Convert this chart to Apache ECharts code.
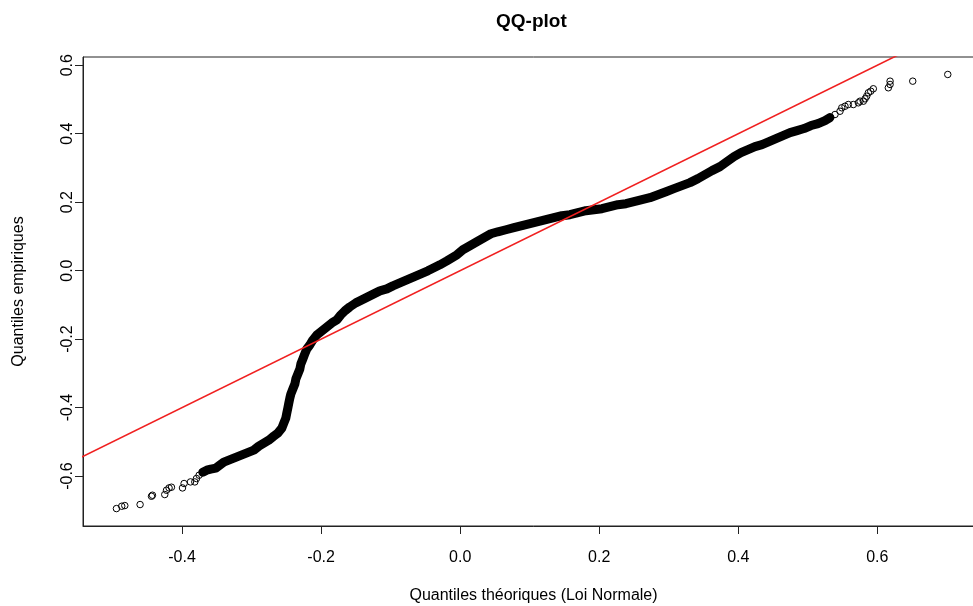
<!DOCTYPE html>
<html>
<head>
<meta charset="utf-8">
<script src="https://cdn.jsdelivr.net/npm/echarts@6/dist/echarts.min.js"></script>
<style>
html,body{margin:0;padding:0;background:#fff;overflow:hidden;width:973px;height:606px;}
#chart{width:992px;height:606px;}
</style>
</head>
<body>
<div id="chart"></div>
<script>
// ---- data ----
// lower tail (isolated points)
const tailLowX = [-0.4944,-0.4868,-0.4824,-0.4604,-0.4440,-0.4426,-0.4249,-0.4224,-0.4187,-0.4153,-0.3994,-0.3971,-0.3879,-0.3817,-0.3793,-0.3755];
const tailLowY = [-0.6951,-0.6883,-0.6863,-0.6833,-0.6591,-0.6561,-0.6541,-0.6415,-0.6348,-0.6327,-0.6348,-0.6219,-0.6172,-0.6172,-0.6073,-0.5976];
// dense central band
const bandX = [-0.3702,-0.3645,-0.3587,-0.3515,-0.3458,-0.3400,-0.3328,-0.3256,-0.3184,-0.3112,-0.3040,-0.2968,-0.2896,-0.2824,-0.2753,-0.2681,-0.2623,-0.2565,-0.2537,-0.2508,-0.2494,-0.2479,-0.2465,-0.2450,-0.2436,-0.2407,-0.2378,-0.2364,-0.2335,-0.2306,-0.2292,-0.2263,-0.2235,-0.2206,-0.2163,-0.2119,-0.2062,-0.1990,-0.1918,-0.1846,-0.1774,-0.1717,-0.1659,-0.1587,-0.1501,-0.1414,-0.1328,-0.1242,-0.1155,-0.1055,-0.0968,-0.0868,-0.0767,-0.0666,-0.0565,-0.0465,-0.0378,-0.0292,-0.0191,-0.0119,-0.0047,0.0039,0.0140,0.0240,0.0341,0.0442,0.0542,0.0658,0.0773,0.0888,0.1003,0.1118,0.1233,0.1348,0.1463,0.1578,0.1694,0.1809,0.1924,0.2039,0.2154,0.2269,0.2384,0.2499,0.2614,0.2729,0.2845,0.2960,0.3075,0.3190,0.3305,0.3420,0.3521,0.3622,0.3737,0.3837,0.3938,0.4039,0.4140,0.4240,0.4341,0.4442,0.4542,0.4643,0.4744,0.4845,0.4945,0.5046,0.5147,0.5247,0.5319];
const bandY = [-0.5888,-0.5830,-0.5800,-0.5771,-0.5683,-0.5596,-0.5537,-0.5478,-0.5420,-0.5361,-0.5303,-0.5244,-0.5127,-0.5040,-0.4952,-0.4835,-0.4747,-0.4601,-0.4454,-0.4308,-0.4162,-0.4015,-0.3869,-0.3723,-0.3606,-0.3459,-0.3313,-0.3167,-0.3020,-0.2874,-0.2728,-0.2581,-0.2435,-0.2289,-0.2172,-0.2025,-0.1879,-0.1762,-0.1645,-0.1528,-0.1440,-0.1294,-0.1176,-0.1059,-0.0942,-0.0855,-0.0767,-0.0679,-0.0591,-0.0533,-0.0445,-0.0357,-0.0269,-0.0181,-0.0094,-0.0006,0.0082,0.0170,0.0287,0.0375,0.0462,0.0609,0.0726,0.0843,0.0960,0.1077,0.1135,0.1194,0.1253,0.1311,0.1370,0.1428,0.1487,0.1545,0.1604,0.1633,0.1692,0.1750,0.1779,0.1809,0.1867,0.1926,0.1955,0.2013,0.2072,0.2131,0.2218,0.2306,0.2394,0.2482,0.2570,0.2687,0.2804,0.2921,0.3038,0.3184,0.3330,0.3447,0.3535,0.3623,0.3682,0.3769,0.3857,0.3945,0.4033,0.4091,0.4150,0.4238,0.4296,0.4384,0.4472];
// upper tail (isolated points)
const tailHighX = [0.5391,0.5463,0.5488,0.5535,0.5583,0.5655,0.5727,0.5751,0.5799,0.5823,0.5847,0.5871,0.5905,0.5942,0.6158,0.6183,0.6183,0.6509,0.7013];
const tailHighY = [0.4560,0.4656,0.4756,0.4802,0.4852,0.4852,0.4902,0.4949,0.4949,0.5019,0.5095,0.5195,0.5241,0.5312,0.5341,0.5438,0.5534,0.5534,0.5730];
// reference line y = x
const refLineX = [-0.6, 0.8];
const refLineY = [-0.6, 0.8];
// ticks
const xTicks = [-0.4, -0.2, 0.0, 0.2, 0.4, 0.6];
const yTicks = [-0.6, -0.4, -0.2, 0.0, 0.2, 0.4, 0.6];

const zip = (a, b) => a.map((v, i) => [v, b[i]]);
const FONT = '"Liberation Sans", Arial, sans-serif';
const fmt = v => Number(v).toFixed(1);

const chart = echarts.init(document.getElementById('chart'), null, {renderer: 'canvas'});
chart.setOption({
  animation: false,
  backgroundColor: '#ffffff',
  title: {
    text: 'QQ-plot',
    left: 491, top: 7,
    textStyle: {fontFamily: FONT, fontSize: 19, fontWeight: 'bold', color: '#000'}
  },
  grid: {left: 83, top: 57, right: 8, bottom: 80, outerBoundsMode: 'none', containLabel: false,
         show: true, borderColor: '#222', borderWidth: 1, backgroundColor: 'transparent'},
  xAxis: {
    type: 'value', min: -0.5425, max: 0.7534,
    axisLine: {show: true, onZero: false, lineStyle: {color: '#222', width: 1}},
    axisTick: {show: true, customValues: xTicks, length: 8, lineStyle: {color: '#222'}},
    axisLabel: {customValues: xTicks, formatter: fmt, fontFamily: FONT, fontSize: 16, color: '#000', margin: 24},
    splitLine: {show: false},
    name: 'Quantiles théoriques (Loi Normale)', nameLocation: 'middle', nameGap: 62,
    nameTextStyle: {fontFamily: FONT, fontSize: 16, color: '#000'}
  },
  yAxis: {
    type: 'value', min: -0.746, max: 0.624,
    axisLine: {show: true, onZero: false, lineStyle: {color: '#222', width: 1}},
    axisTick: {show: true, customValues: yTicks, length: 8, lineStyle: {color: '#222'}},
    axisLabel: {customValues: yTicks, formatter: fmt, fontFamily: FONT, fontSize: 16, color: '#000', margin: 7, rotate: 90},
    splitLine: {show: false},
    name: 'Quantiles empiriques', nameLocation: 'middle', nameGap: 56, nameRotate: 90,
    nameTextStyle: {fontFamily: FONT, fontSize: 16, color: '#000'}
  },
  series: [
    {
      type: 'line', data: zip(bandX, bandY), showSymbol: false, symbol: 'none',
      lineStyle: {color: '#000', width: 9, join: 'round', cap: 'round'}, z: 2, silent: true
    },
    {
      type: 'scatter', data: zip(tailLowX, tailLowY).concat(zip(bandX, bandY), zip(tailHighX, tailHighY)),
      symbol: 'circle', symbolSize: 6.5,
      itemStyle: {color: 'rgba(0,0,0,0)', borderColor: '#000', borderWidth: 1, opacity: 1}, z: 3, silent: true
    },
    {
      type: 'line', data: zip(refLineX, refLineY), showSymbol: false, symbol: 'none', clip: true,
      lineStyle: {color: '#f02020', width: 1.6}, z: 4, silent: true
    }
  ]
});
</script>
</body>
</html>
